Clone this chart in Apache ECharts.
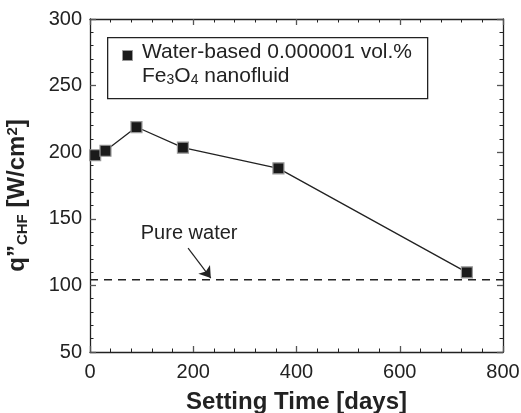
<!DOCTYPE html>
<html>
<head>
<meta charset="utf-8">
<script src="https://cdn.jsdelivr.net/npm/echarts@6/dist/echarts.min.js"></script>
<style>html,body{margin:0;padding:0;background:#fff;overflow:hidden}#c{width:521px;height:413px}</style>
</head>
<body>
<div id="c"></div>
<script>
var settingDays = [10, 30, 90, 180, 365, 730];
var chfValues = [197.7, 201.1, 218.9, 203.4, 187.9, 109.8];
var pureWaterX = [0, 800];
var pureWaterY = [104.3, 104.3];
var xTicks = [0, 200, 400, 600, 800];
var yTicks = [50, 100, 150, 200, 250, 300];
var arrowFrom = [190, 128];
var arrowTo = [234, 105.5];
var pureLabelPos = [192, 139];

var FONT = 'Liberation Sans, Arial, sans-serif';
var chart = echarts.init(document.getElementById('c'), null, {renderer: 'canvas', width: 521, height: 413});

function axisCommon(showLabel) {
  return {
    axisLine: {show: true, onZero: false, lineStyle: {color: '#222', width: 1.3}},
    axisTick: {show: true, inside: true, length: 6, lineStyle: {color: '#555', width: 1.3}},
    minorTick: {show: true, splitNumber: 5, length: 3.5, lineStyle: {color: '#222', width: 1}},
    splitLine: {show: false},
    axisLabel: {show: showLabel, color: '#222', fontFamily: FONT, fontSize: 20}
  };
}

var xMain = Object.assign(axisCommon(true), {
  type: 'value', min: xTicks[0], max: xTicks[xTicks.length - 1], interval: 200, position: 'bottom',
  name: 'Setting Time [days]', nameLocation: 'middle', nameGap: 38,
  nameTextStyle: {fontFamily: FONT, fontWeight: 'bold', fontSize: 24, color: '#222'}
});
xMain.axisLabel.margin = 10;
var xTop = Object.assign(axisCommon(false), {
  type: 'value', min: xTicks[0], max: xTicks[xTicks.length - 1], interval: 200, position: 'top'
});
var yMain = Object.assign(axisCommon(true), {
  type: 'value', min: yTicks[0], max: yTicks[yTicks.length - 1], interval: 50, position: 'left',
  name: '{b|q\u201D}{sub|CHF}{b| [W/cm}{sup|2}{b|]}', nameLocation: 'middle', nameGap: 60,
  nameTextStyle: {
    fontFamily: FONT, fontWeight: 'bold', fontSize: 24, color: '#222', padding: [0, 20, 0, 0],
    rich: {
      b: {fontFamily: FONT, fontWeight: 'bold', fontSize: 24, color: '#222'},
      sub: {fontFamily: FONT, fontWeight: 'bold', fontSize: 15, color: '#222', verticalAlign: 'bottom', padding: [10, 0, 0, 0]},
      sup: {fontFamily: FONT, fontWeight: 'bold', fontSize: 15, color: '#222', verticalAlign: 'top', padding: [0, 0, 10, 0]}
    }
  }
});
yMain.axisLabel.margin = 8;
var yRight = Object.assign(axisCommon(false), {
  type: 'value', min: yTicks[0], max: yTicks[yTicks.length - 1], interval: 50, position: 'right'
});

var option = {
  animation: false,
  backgroundColor: '#fff',
  grid: {left: 90, right: 18, top: 19, bottom: 61, containLabel: false, outerBoundsMode: 'none'},
  xAxis: [xMain, xTop],
  yAxis: [yMain, yRight],
  series: [
    {
      type: 'line',
      name: 'pure',
      data: pureWaterX.map(function (x, i) { return [x, pureWaterY[i]]; }),
      symbol: 'none',
      lineStyle: {color: '#222', width: 1.5, type: [8, 6]},
      z: 2,
      markLine: {
        silent: true,
        symbol: ['none', 'arrow'],
        symbolSize: 11,
        lineStyle: {color: '#222', width: 1.2, type: 'solid'},
        label: {show: false},
        data: [[{coord: arrowFrom}, {coord: arrowTo}]]
      },
      markPoint: {
        silent: true,
        symbol: 'rect', symbolSize: 1,
        itemStyle: {color: 'rgba(0,0,0,0)'},
        label: {show: true, position: 'inside', formatter: 'Pure water', color: '#222', fontFamily: FONT, fontSize: 20},
        data: [{coord: pureLabelPos}]
      }
    },
    {
      type: 'line',
      name: 'nano',
      data: settingDays.map(function (x, i) { return [x, chfValues[i]]; }),
      symbol: 'rect',
      symbolSize: 11,
      itemStyle: {color: '#1a1a1a', borderColor: '#999', borderWidth: 1.2},
      lineStyle: {color: '#222', width: 1.3},
      z: 3
    }
  ],
  graphic: [
    {type: 'rect', left: 107, top: 37, shape: {width: 320, height: 61}, style: {fill: '#fff', stroke: '#222', lineWidth: 1.3}, z: 10},
    {type: 'rect', left: 122, top: 50, shape: {width: 10, height: 10}, style: {fill: '#1a1a1a', stroke: '#999', lineWidth: 1}, z: 11},
    {type: 'text', left: 142, top: 42, z: 11, style: {text: 'Water-based 0.000001 vol.%', fill: '#222', font: '21px ' + FONT}},
    {type: 'text', left: 142, top: 66, z: 11, style: {
      text: '{n|Fe}{s|3}{n|O}{s|4}{n| nanofluid}',
      rich: {
        n: {fontSize: 21, fontFamily: FONT, fill: '#222', color: '#222'},
        s: {fontSize: 14, fontFamily: FONT, fill: '#222', color: '#222', verticalAlign: 'bottom', padding: [8, 0, 0, 0]}
      }
    }}
  ]
};
chart.setOption(option);
</script>
</body>
</html>
